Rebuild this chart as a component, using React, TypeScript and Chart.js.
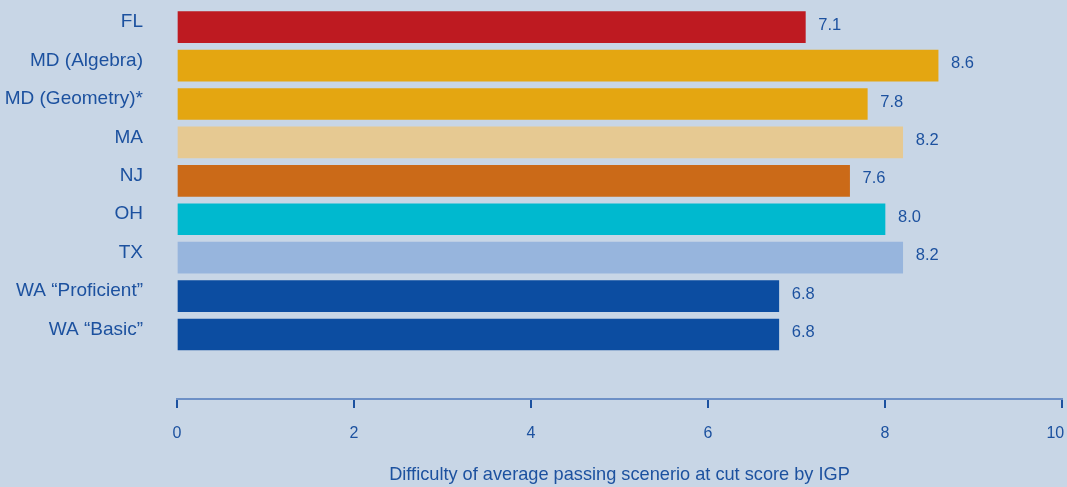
import React, { useEffect, useRef } from "react";
import { Chart, registerables } from "chart.js";

Chart.register(...registerables);

const categories: string[] = [
  "FL",
  "MD (Algebra)",
  "MD (Geometry)*",
  "MA",
  "NJ",
  "OH",
  "TX",
  "WA \u201cProficient\u201d",
  "WA \u201cBasic\u201d",
];
const values: number[] = [7.1, 8.6, 7.8, 8.2, 7.6, 8.0, 8.2, 6.8, 6.8];
const barColors: string[] = [
  "#be1a21",
  "#e4a611",
  "#e4a611",
  "#e6c992",
  "#cb6a18",
  "#00b9cf",
  "#97b5dd",
  "#0c4da1",
  "#0c4da1",
];
const xTicks: number[] = [0, 2, 4, 6, 8, 10];
const xTitle = "Difficulty of average passing scenerio at cut score by IGP";

const BG = "#c8d6e6";
const TEXT = "#1c519f";
const FONT = "'Liberation Sans', Arial, sans-serif";

const bgPlugin = {
  id: "bg",
  beforeDraw(chart: any) {
    const { ctx, width, height } = chart;
    ctx.save();
    ctx.fillStyle = BG;
    ctx.fillRect(0, 0, width, height);
    ctx.restore();
  },
};

const valueLabelPlugin = {
  id: "valueLabels",
  afterDatasetsDraw(chart: any) {
    const { ctx } = chart;
    const meta = chart.getDatasetMeta(0);
    ctx.save();
    ctx.fillStyle = TEXT;
    ctx.font = `16.5px ${FONT}`;
    ctx.textAlign = "left";
    ctx.textBaseline = "middle";
    meta.data.forEach((bar: any, i: number) => {
      ctx.fillText(values[i].toFixed(1), bar.x + 13, bar.y - 2);
    });
    ctx.restore();
  },
};

export default function App() {
  const ref = useRef<HTMLCanvasElement | null>(null);
  useEffect(() => {
    if (!ref.current) return;
    const chart = new Chart(ref.current, {
      type: "bar",
      data: {
        datasets: [
          {
            data: values.map((v, i) => ({ x: v, y: i })) as any,
            backgroundColor: barColors,
            barThickness: 31,
            borderWidth: 0,
          },
        ],
      },
      options: {
        indexAxis: "y",
        animation: false,
        responsive: false,
        maintainAspectRatio: false,
        layout: { padding: { top: 8, right: 5, bottom: 0, left: 0 } },
        plugins: {
          legend: { display: false },
          tooltip: { enabled: false },
        },
        scales: {
          y: {
            type: "linear",
            reverse: true,
            offset: false,
            min: -0.5,
            max: 9.68,
            afterBuildTicks: (axis: any) => {
              axis.ticks = categories.map((_, i) => ({ value: i }));
            },
            afterFit: (axis: any) => {
              axis.width = 177;
              axis.paddingTop = 0;
              axis.paddingBottom = 0;
            },
            grid: { display: false, drawTicks: false },
            border: { display: false },
            ticks: {
              autoSkip: false,
              padding: 34,
              labelOffset: -5,
              color: TEXT,
              font: { family: FONT, size: 19 },
              callback: (v: any) => categories[v as number] ?? "",
            },
          },
          x: {
            type: "linear",
            min: 0,
            max: 10,
            afterBuildTicks: (axis: any) => {
              axis.ticks = xTicks.map((v) => ({ value: v }));
            },
            afterFit: (axis: any) => {
              axis.height = 88;
              axis.paddingLeft = 0;
              axis.paddingRight = 0;
            },
            grid: {
              display: true,
              drawOnChartArea: false,
              drawTicks: true,
              tickLength: 9,
              color: TEXT,
              lineWidth: 2,
            },
            border: { display: true, color: "#6d90c6", width: 2 },
            ticks: {
              padding: 16,
              color: TEXT,
              font: { family: FONT, size: 16 },
              maxRotation: 0,
              callback: (v: any) => (v === 10 ? "10\u00a0\u00a0\u00a0" : String(v)),
            },
            title: {
              display: true,
              text: xTitle,
              color: TEXT,
              font: { family: FONT, size: 18.2 },
              padding: { top: 0, bottom: 1 },
            },
          },
        },
      },
      plugins: [bgPlugin, valueLabelPlugin],
    });
    return () => chart.destroy();
  }, []);
  return (
    <div style={{ position: "absolute", left: 0, top: 0, width: 1067, height: 487, background: BG }}>
      <canvas ref={ref} width={1067} height={487} style={{ display: "block", width: 1067, height: 487 }} />
    </div>
  );
}
